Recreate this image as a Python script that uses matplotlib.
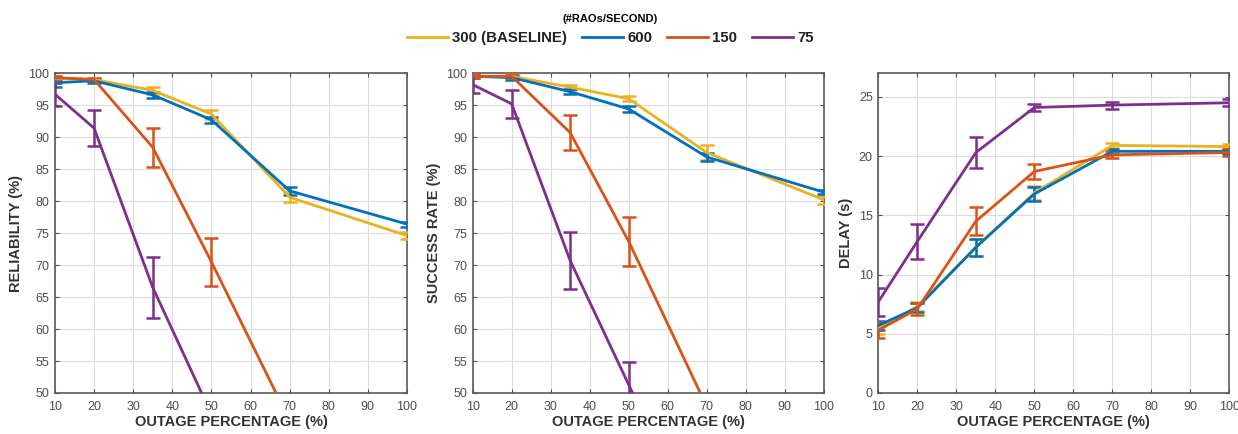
import matplotlib
matplotlib.use("Agg")
import matplotlib.pyplot as plt
from matplotlib.lines import Line2D

plt.rcParams['font.family'] = ['Liberation Sans', 'DejaVu Sans']

x = [10, 20, 35, 50, 70, 100]
series_labels = ["300 (BASELINE)", "600", "150", "75"]
colors = ["#EDB120", "#0072BD", "#D95319", "#7E2F8E"]

# Reliability (%)
rel_300 = [99.2, 99.0, 97.3, 93.6, 80.6, 74.6]
rel_600 = [98.5, 98.8, 96.6, 92.7, 81.6, 76.4]
rel_150 = [99.3, 99.0, 88.4, 70.5, 45.7, 40.0]
rel_75 = [96.7, 91.4, 66.5, 46.7, 30.0, 20.0]
rel_err_300 = [0.4, 0.3, 0.5, 0.7, 0.8, 0.5]
rel_err_600 = [0.7, 0.3, 0.5, 0.5, 0.6, 0.4]
rel_err_150 = [0.3, 0.3, 3.0, 3.8, 2.0, 2.0]
rel_err_75 = [1.8, 2.8, 4.7, 2.5, 2.5, 2.5]

# Success rate (%)
suc_300 = [99.5, 99.5, 97.8, 96.0, 87.6, 80.2]
suc_600 = [99.5, 99.3, 97.1, 94.4, 86.9, 81.4]
suc_150 = [99.5, 99.5, 90.7, 73.7, 47.9, 40.0]
suc_75 = [98.2, 95.2, 70.7, 51.3, 25.5, 20.0]
suc_err_300 = [0.3, 0.3, 0.4, 0.4, 1.2, 0.6]
suc_err_600 = [0.3, 0.3, 0.4, 0.4, 0.6, 0.3]
suc_err_150 = [0.3, 0.3, 2.7, 3.8, 1.5, 1.5]
suc_err_75 = [1.3, 2.2, 4.4, 3.5, 3.5, 3.5]

# Delay (s)
del_300 = [5.5, 7.3, 12.3, 16.9, 20.9, 20.8]
del_600 = [5.7, 7.2, 12.3, 16.8, 20.4, 20.4]
del_150 = [5.3, 7.1, 14.5, 18.7, 20.1, 20.3]
del_75 = [7.7, 12.8, 20.3, 24.1, 24.3, 24.5]
del_err_300 = [0.5, 0.4, 0.7, 0.6, 0.2, 0.2]
del_err_600 = [0.4, 0.4, 0.7, 0.6, 0.2, 0.2]
del_err_150 = [0.7, 0.5, 1.2, 0.6, 0.3, 0.3]
del_err_75 = [1.2, 1.5, 1.3, 0.3, 0.3, 0.3]

panels = [
    dict(ys=[rel_300, rel_600, rel_150, rel_75],
         es=[rel_err_300, rel_err_600, rel_err_150, rel_err_75],
         ylabel="RELIABILITY (%)", ylim=(50, 100), yticks=range(50, 101, 5),
         rect=[0.0444, 0.0945, 0.2843, 0.737]),
    dict(ys=[suc_300, suc_600, suc_150, suc_75],
         es=[suc_err_300, suc_err_600, suc_err_150, suc_err_75],
         ylabel="SUCCESS RATE (%)", ylim=(50, 100), yticks=range(50, 101, 5),
         rect=[0.3818, 0.0945, 0.2835, 0.737]),
    dict(ys=[del_300, del_600, del_150, del_75],
         es=[del_err_300, del_err_600, del_err_150, del_err_75],
         ylabel="DELAY (s)", ylim=(0, 27), yticks=range(0, 26, 5),
         rect=[0.7095, 0.0945, 0.2836, 0.737]),
]

fig = plt.figure(figsize=(12.38, 4.34), dpi=100)
for p in panels:
    ax = fig.add_axes(p["rect"])
    for y, e, c in zip(p["ys"], p["es"], colors):
        ax.errorbar(x, y, yerr=e, color=c, lw=2, elinewidth=1.8, capsize=5,
                    capthick=1.8, zorder=3)
    ax.set_xlim(10, 100)
    ax.set_ylim(*p["ylim"])
    ax.set_xticks(range(10, 101, 10))
    ax.set_yticks(list(p["yticks"]))
    ax.grid(True, color="#dcdcdc", lw=0.8)
    ax.set_axisbelow(True)
    ax.tick_params(direction="in", top=True, right=True, labelsize=9,
                   labelcolor="#4d4d4d", color="#4d4d4d", length=3)
    ax.tick_params(axis="x", pad=6)
    ax.tick_params(axis="y", pad=4)
    for s in ax.spines.values():
        s.set_color("#5a5a5a")
        s.set_linewidth(1.2)
    ax.set_xlabel("OUTAGE PERCENTAGE (%)", fontsize=10.5, fontweight="bold",
                  color="#333333", labelpad=1)
    ax.set_ylabel(p["ylabel"], fontsize=10.5, fontweight="bold",
                  color="#333333", labelpad=4)

handles = [Line2D([], [], color=c, lw=2) for c in colors]
leg = fig.legend(handles, series_labels, loc="upper center", ncol=4,
                 bbox_to_anchor=(0.493, 1.0), frameon=False,
                 title="(#RAOs/SECOND)", handlelength=2.7, handletextpad=0.3,
                 columnspacing=1.0,
                 prop=dict(size=10.8, weight="bold"),
                 title_fontproperties=dict(size=8, weight="bold"))
for t in leg.get_texts():
    t.set_color("#222222")

fig.savefig("out.png", dpi=100)
